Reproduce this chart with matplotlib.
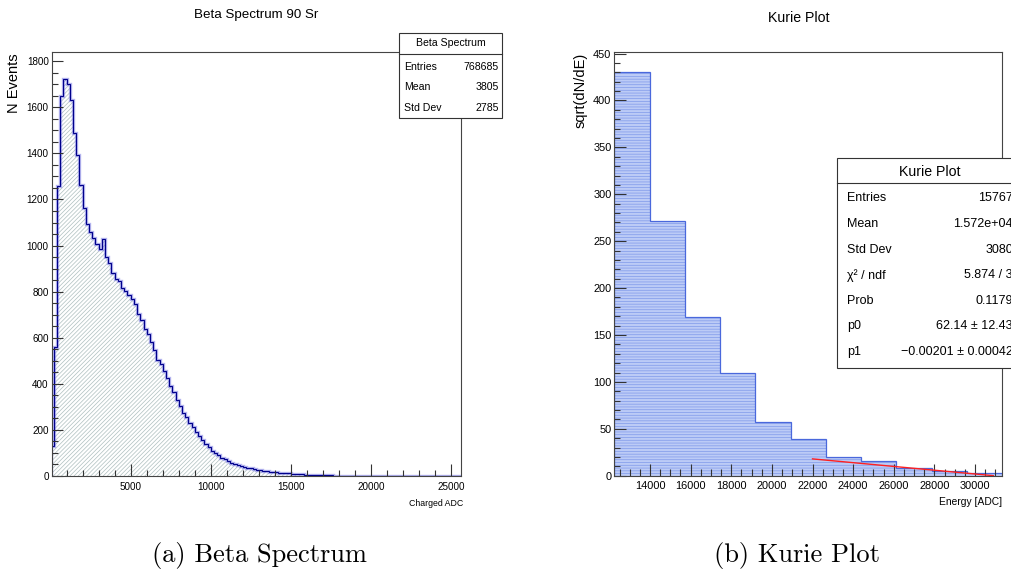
import numpy as np
import matplotlib
matplotlib.use("Agg")
import matplotlib.pyplot as plt
from matplotlib import font_manager
from matplotlib.patches import Rectangle
from matplotlib.lines import Line2D
from matplotlib.ticker import MultipleLocator

# ---- beta spectrum, counts per 200 ADC bin (0 .. 25600) ----
beta_bin_width = 200
beta_counts = [
    130, 560, 1260, 1650, 1725, 1700, 1630, 1490, 1395, 1265,
    1165, 1095, 1060, 1035, 1005, 985, 1030, 950, 925, 880,
    855, 845, 815, 805, 785, 770, 745, 705, 675, 640,
    615, 580, 545, 505, 485, 455, 425, 390, 365, 330,
    305, 275, 258, 232, 212, 190, 172, 155, 140, 124,
    110, 99, 89, 80, 72, 64, 58, 53, 48, 44,
    40, 36, 33, 30, 27, 25, 23, 21, 19, 17,
    16, 14, 13, 12, 11, 10, 9, 8, 7, 6,
    6, 5, 5, 4, 4, 3, 3, 3, 2, 2,
    2, 2, 2, 1, 1, 1, 1, 1, 1, 1,
    1, 1, 1, 1, 1, 0, 0, 0, 0, 0,
    0, 0, 0, 0, 0, 0, 0, 0, 0, 0,
    0, 0, 0, 0, 0, 0, 0, 0,
]
beta_stats = [("Entries", "768685"), ("Mean", "3805"), ("Std Dev", "2785")]

# ---- Kurie plot ----
kurie_lo, kurie_hi = 12242, 31344
kurie_vals = [430, 272, 169, 110, 57, 38.6, 20, 16, 7.8, 5.3, 3.2]
fit_p0, fit_p1 = 62.14, -0.00201
fit_range = (22000, 30900)
kurie_stats = [
    ("Entries", "15767"), ("Mean", "1.572e+04"), ("Std Dev", "3080"),
    ("\u03c7\u00b2 / ndf", "5.874 / 3"), ("Prob", "0.1179"),
    ("p0", "62.14 \u00b1 12.43"), ("p1", "\u22120.00201 \u00b1 0.00042"),
]

names = {f.name for f in font_manager.fontManager.ttflist}
if "Liberation Sans Narrow" in names:
    FONT, k = "Liberation Sans Narrow", 1.2
else:
    FONT, k = "Liberation Sans", 1.0

plt.rcParams["font.family"] = FONT
plt.rcParams["hatch.linewidth"] = 0.5

W, H = 1011, 572
fig = plt.figure(figsize=(W / 100, H / 100), dpi=100)


def fx(x):
    return x / W


def fy(y):
    return 1 - y / H


def frame(x0, x1, y0, y1):
    return [fx(x0), fy(y1), fx(x1) - fx(x0), fy(y0) - fy(y1)]


def style_axes(ax, tick_size, xmaj, xmin, ymaj, ymin, xlen, ylen):
    for s in ax.spines.values():
        s.set_color("#444444")
        s.set_linewidth(0.8)
    ax.xaxis.set_major_locator(MultipleLocator(xmaj))
    ax.xaxis.set_minor_locator(MultipleLocator(xmin))
    ax.yaxis.set_major_locator(MultipleLocator(ymaj))
    ax.yaxis.set_minor_locator(MultipleLocator(ymin))
    ax.tick_params(which="both", direction="in", top=False, right=False,
                   color="#333333", width=0.8, labelsize=tick_size)
    ax.tick_params(axis="x", which="major", length=xlen, pad=4)
    ax.tick_params(axis="x", which="minor", length=xlen * 0.55)
    ax.tick_params(axis="y", which="major", length=ylen, pad=2)
    ax.tick_params(axis="y", which="minor", length=ylen * 0.5)
    ax.ticklabel_format(useOffset=False, style="plain")


# ---------------- left: beta spectrum ----------------
ax1 = fig.add_axes(frame(51.5, 461, 52, 476))
edges = np.arange(len(beta_counts) + 1) * beta_bin_width
ax1.stairs(beta_counts, edges, fill=True, facecolor="white", hatch="////////",
           edgecolor="#aebfbf", linewidth=0)
ax1.stairs(beta_counts, edges, color="#6a6ae0", alpha=0.5, linewidth=2.4)
ax1.stairs(beta_counts, edges, color="#00008b", linewidth=0.8)
ax1.set_xlim(60, 25600)
ax1.set_ylim(0, 1840)
style_axes(ax1, 7.1 * k, 5000, 1000, 200, 50, 8.5, 8)

fig.text(fx(256), fy(15), "Beta Spectrum 90 Sr", ha="center", va="center",
         fontsize=9.6 * k)
fig.text(fx(14), fy(53), "N Events", rotation=90, ha="center", va="top",
         fontsize=10.5, family="Liberation Sans")
fig.text(fx(463), fy(503), "Charged ADC", ha="right", va="center",
         fontsize=6.3 * k)

# stats box
fig.add_artist(Rectangle((fx(399), fy(117.7)), fx(501.7) - fx(399),
                         fy(32.7) - fy(117.7), transform=fig.transFigure,
                         facecolor="white", edgecolor="#333333", lw=0.8,
                         zorder=5))
fig.add_artist(Line2D([fx(399), fx(501.7)], [fy(54), fy(54)],
                      transform=fig.transFigure, color="#333333", lw=0.8,
                      zorder=6))
fig.text(fx(450.4), fy(43.3), "Beta Spectrum", ha="center", va="center",
         fontsize=7.6 * k, zorder=7)
for i, (lab, val) in enumerate(beta_stats):
    yy = fy(66.7 + i * 20.8)
    fig.text(fx(404), yy, lab, ha="left", va="center", fontsize=7.6 * k,
             zorder=7)
    fig.text(fx(499), yy, val, ha="right", va="center", fontsize=7.6 * k,
             zorder=7)

# ---------------- right: Kurie plot ----------------
ax2 = fig.add_axes(frame(614.3, 1002.3, 51.7, 475.7))
kedges = np.linspace(kurie_lo, kurie_hi, len(kurie_vals) + 1)
ax2.stairs(kurie_vals, kedges, fill=True, facecolor="#bccbf6",
           hatch="------", edgecolor="#7f99ea", linewidth=0)
ax2.stairs(kurie_vals, kedges, color="#4a68dc", linewidth=0.9)
xf = np.array(fit_range)
ax2.plot(xf, fit_p0 + fit_p1 * xf, color="#ff2020", lw=1.0)
ax2.set_xlim(kurie_lo, kurie_hi)
ax2.set_ylim(0, 452)
style_axes(ax2, 7.9 * k, 2000, 500, 50, 10, 8.6, 8.6)

fig.text(fx(799), fy(18), "Kurie Plot", ha="center", va="center",
         fontsize=10.2 * k)
fig.text(fx(581), fy(53), "sqrt(dN/dE)", rotation=90, ha="center", va="top",
         fontsize=10.5, family="Liberation Sans")
fig.text(fx(1002), fy(502), "Energy [ADC]", ha="right", va="center",
         fontsize=7.4 * k)

fig.add_artist(Rectangle((fx(836.7), fy(368.3)), fx(1030) - fx(836.7),
                         fy(158.3) - fy(368.3), transform=fig.transFigure,
                         facecolor="white", edgecolor="#333333", lw=0.8,
                         zorder=5))
fig.add_artist(Line2D([fx(836.7), fx(1030)], [fy(183.3), fy(183.3)],
                      transform=fig.transFigure, color="#333333", lw=0.8,
                      zorder=6))
fig.text(fx(930), fy(171.7), "Kurie Plot", ha="center", va="center",
         fontsize=10.2 * k, zorder=7)
for i, (lab, val) in enumerate(kurie_stats):
    yy = fy(198.3 + i * 25.6)
    fig.text(fx(847), yy, lab, ha="left", va="center", fontsize=9.0 * k,
             zorder=7)
    fig.text(fx(1013), yy, val, ha="right", va="center", fontsize=9.0 * k,
             zorder=7)

# ---------------- sub-captions ----------------
fig.text(fx(259), fy(562), "(a) Beta Spectrum", ha="center", va="baseline",
         fontsize=19, family="cmr10")
fig.text(fx(797), fy(562), "(b) Kurie Plot", ha="center", va="baseline",
         fontsize=19, family="cmr10")

fig.savefig("out.png", dpi=100)
